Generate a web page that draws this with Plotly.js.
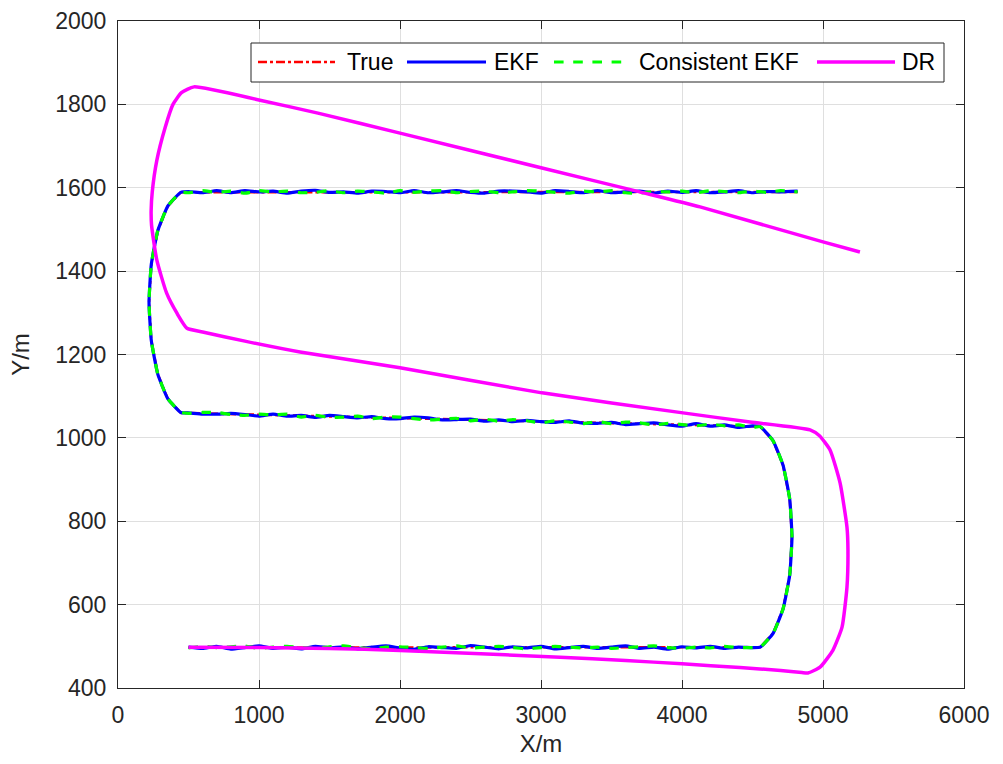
<!DOCTYPE html>
<html>
<head>
<meta charset="utf-8">
<script src="https://cdn.plot.ly/plotly-3.0.1.min.js"></script>
<style>
  html, body { margin: 0; padding: 0; background: #ffffff; }
  #chart { width: 1003px; height: 764px; }
</style>
</head>
<body>
<div id="chart"></div>
<script>
// ---------------- DATA ----------------
// True trajectory (m)
const trueX = [500, 4555, 4646, 4717, 4764, 4780, 4764, 4717, 4646, 4555,
               445, 353, 282, 236, 220, 236, 282, 353, 445, 4820];
const trueY = [497, 498, 531, 590, 671, 762, 853, 934, 993, 1027,
               1060, 1094, 1153, 1234, 1325, 1416, 1497, 1556, 1589, 1590];

// EKF estimate (m)
const ekfX = [500, 600, 700, 800, 900, 1000, 1100, 1200, 1300, 1400, 1500, 1600, 1700, 1800, 1900, 2000,
              2100, 2200, 2300, 2400, 2500, 2600, 2700, 2800, 2900, 3000, 3100, 3200, 3300, 3400, 3500,
              3600, 3700, 3800, 3900, 4000, 4100, 4200, 4300, 4400, 4500,
              4555, 4646, 4717, 4764, 4780, 4764, 4717, 4646, 4555,
              4500, 4400, 4300, 4200, 4100, 4000, 3900, 3800, 3700, 3600, 3500, 3400, 3300, 3200, 3100,
              3000, 2900, 2800, 2700, 2600, 2500, 2400, 2300, 2200, 2100, 2000, 1900, 1800, 1700, 1600,
              1500, 1400, 1300, 1200, 1100, 1000, 900, 800, 700, 600, 500,
              445, 353, 282, 236, 220, 236, 282, 353, 445,
              500, 600, 700, 800, 900, 1000, 1100, 1200, 1300, 1400, 1500, 1600, 1700, 1800, 1900, 2000,
              2100, 2200, 2300, 2400, 2500, 2600, 2700, 2800, 2900, 3000, 3100, 3200, 3300, 3400, 3500,
              3600, 3700, 3800, 3900, 4000, 4100, 4200, 4300, 4400, 4500, 4600, 4700, 4820];
const ekfY = [498, 495, 500, 493, 497, 501, 495, 498, 494, 500, 496, 499, 494, 498, 501, 496,
              493, 499, 497, 495, 502, 498, 494, 499, 496, 500, 494, 497, 500, 495, 498,
              501, 495, 498, 493, 499, 496, 500, 495, 498, 497,
              498, 531, 590, 671, 762, 853, 934, 993, 1027,
              1029, 1025, 1031, 1028, 1034, 1028, 1031, 1036, 1034, 1032, 1037, 1035, 1035, 1041, 1037,
              1039, 1042, 1039, 1043, 1040, 1045, 1044, 1043, 1048, 1050, 1046, 1046, 1051, 1048, 1051,
              1054, 1049, 1054, 1052, 1057, 1052, 1056, 1059, 1057, 1057, 1060,
              1061, 1094, 1153, 1234, 1325, 1416, 1497, 1556, 1589,
              1591, 1588, 1593, 1588, 1593, 1590, 1592, 1587, 1592, 1594, 1589, 1590, 1587, 1592, 1591, 1588,
              1593, 1588, 1590, 1593, 1589, 1587, 1592, 1592, 1590, 1587, 1593, 1591, 1588, 1593, 1588,
              1590, 1592, 1587, 1592, 1589, 1593, 1588, 1590, 1593, 1588, 1591, 1590, 1592];

// Consistent EKF estimate (m)
const cekfX = ekfX.slice();
const cekfY = [496, 500, 497, 499, 501, 495, 498, 500, 497, 495, 499, 501, 496, 494, 498, 499,
               497, 495, 498, 501, 496, 498, 500, 497, 494, 497, 500, 498, 496, 498, 495,
               497, 499, 501, 497, 495, 498, 496, 500, 497, 497,
               498, 531, 590, 671, 762, 853, 934, 993, 1027,
               1025, 1031, 1029, 1033, 1029, 1032, 1035, 1031, 1036, 1038, 1034, 1039, 1034, 1038, 1041,
               1036, 1041, 1044, 1040, 1045, 1041, 1047, 1045, 1043, 1046, 1050, 1050, 1046, 1052, 1050,
               1049, 1054, 1050, 1057, 1055, 1057, 1054, 1056, 1061, 1061, 1059,
               1061, 1094, 1153, 1234, 1325, 1416, 1497, 1556, 1589,
               1588, 1593, 1589, 1592, 1587, 1593, 1590, 1592, 1588, 1589, 1593, 1588, 1592, 1590, 1587, 1593,
               1589, 1592, 1593, 1588, 1591, 1592, 1588, 1590, 1593, 1592, 1589, 1587, 1592, 1590, 1593,
               1588, 1587, 1591, 1590, 1592, 1588, 1593, 1591, 1588, 1592, 1589, 1593, 1590];

// Dead reckoning (m)
const drX = [500, 1000, 1500, 2000, 2355, 3135, 3600, 4000, 4411, 4700, 4850, 4894,
             4979, 5071, 5135, 5170, 5177, 5170, 5121, 5050, 4975, 4908,
             4482, 4007, 3007, 2000, 1291, 900, 600, 489,
             418, 345, 275, 238, 235, 243, 275, 335, 390, 450, 539,
             1007, 1418, 2000, 3000, 3700, 4128, 5000, 5262];
const drY = [498, 497, 495, 490, 485, 474, 466, 458, 449, 442, 437, 436,
             450, 491, 546, 642, 731, 786, 892, 971, 1005, 1019,
             1038, 1060, 1108, 1168, 1206, 1232, 1254, 1263,
             1299, 1347, 1427, 1510, 1545, 1590, 1665, 1745, 1800, 1828, 1842,
             1810, 1779, 1731, 1648, 1590, 1554, 1470, 1446];

const seriesNames = ['True', 'EKF', 'Consistent EKF', 'DR'];
const xTicks = [0, 1000, 2000, 3000, 4000, 5000, 6000];
const yTicks = [400, 600, 800, 1000, 1200, 1400, 1600, 1800, 2000];

// ---------------- STYLE / LAYOUT ----------------
const FONT = 'Liberation Sans, Arial, Helvetica, sans-serif';
const TXT = '#262626';
const L = 118, R = 964, T = 21, B = 688, W = 1003, H = 764;
const px = v => (v - L) / (R - L);
const py = v => (B - v) / (B - T);

const styles = [
  { color: '#ff0000', dash: 'dashdot', width: 2.5, shape: 'linear', smooth: 0 },
  { color: '#0000ff', dash: 'solid', width: 3.2, shape: 'spline', smooth: 0.4 },
  { color: '#00ff00', dash: 'dash', width: 3.2, shape: 'spline', smooth: 0.4 },
  { color: '#ff00ff', dash: 'solid', width: 3.5, shape: 'spline', smooth: 0.5 }
];
const xs = [trueX, ekfX, cekfX, drX];
const ys = [trueY, ekfY, cekfY, drY];

const traces = seriesNames.map((n, i) => {
  const line = { color: styles[i].color, dash: styles[i].dash, width: styles[i].width, shape: styles[i].shape };
  if (styles[i].shape === 'spline') line.smoothing = styles[i].smooth;
  return { type: 'scatter', mode: 'lines', name: n, x: xs[i], y: ys[i], line: line,
           showlegend: false, hoverinfo: 'skip' };
});

// custom legend (MATLAB style: long line samples)
const legBox = { x0: 251, x1: 944, y0: 43, y1: 82 };
const legLines = [[258, 335], [407, 486], [554, 628], [817, 895]];
const legText = [345, 492, 637, 900];
const legY = 62;

const shapes = [{
  type: 'rect', xref: 'paper', yref: 'paper',
  x0: px(legBox.x0), x1: px(legBox.x1), y0: py(legBox.y1), y1: py(legBox.y0),
  line: { color: TXT, width: 1 }, fillcolor: '#ffffff', layer: 'above'
}];
const annotations = [];
seriesNames.forEach((n, i) => {
  shapes.push({
    type: 'line', xref: 'paper', yref: 'paper',
    x0: px(legLines[i][0]), x1: px(legLines[i][1]), y0: py(legY), y1: py(legY),
    line: { color: styles[i].color, dash: styles[i].dash, width: styles[i].width }, layer: 'above'
  });
  annotations.push({
    xref: 'paper', yref: 'paper', x: px(legText[i]), y: py(legY),
    xanchor: 'left', yanchor: 'middle', showarrow: false, text: n,
    font: { family: FONT, size: 23, color: '#000000' }
  });
});

const axisCommon = {
  showline: true, mirror: 'ticks', linecolor: TXT, linewidth: 1,
  ticks: 'inside', ticklen: 8, tickcolor: TXT, tickwidth: 1,
  showgrid: true, gridcolor: '#dfdfdf', gridwidth: 1, zeroline: false,
  tickfont: { family: FONT, size: 23, color: TXT }
};

const layout = {
  width: W, height: H,
  margin: { l: L, r: W - R, t: T, b: H - B, pad: 0 },
  paper_bgcolor: '#ffffff', plot_bgcolor: '#ffffff',
  font: { family: FONT, color: TXT },
  showlegend: false,
  xaxis: Object.assign({}, axisCommon, {
    range: [0, 6000], tickvals: xTicks, ticktext: xTicks.map(String),
    ticklabelstandoff: 6,
    title: { text: 'X/m', font: { family: FONT, size: 24, color: TXT }, standoff: 8 }
  }),
  yaxis: Object.assign({}, axisCommon, {
    range: [400, 2000], tickvals: yTicks, ticktext: yTicks.map(String),
    ticklabelstandoff: 6,
    title: { text: 'Y/m', font: { family: FONT, size: 24, color: TXT }, standoff: 18 }
  }),
  shapes: shapes,
  annotations: annotations
};

Plotly.newPlot('chart', traces, layout, { staticPlot: true, displayModeBar: false });
</script>
</body>
</html>
